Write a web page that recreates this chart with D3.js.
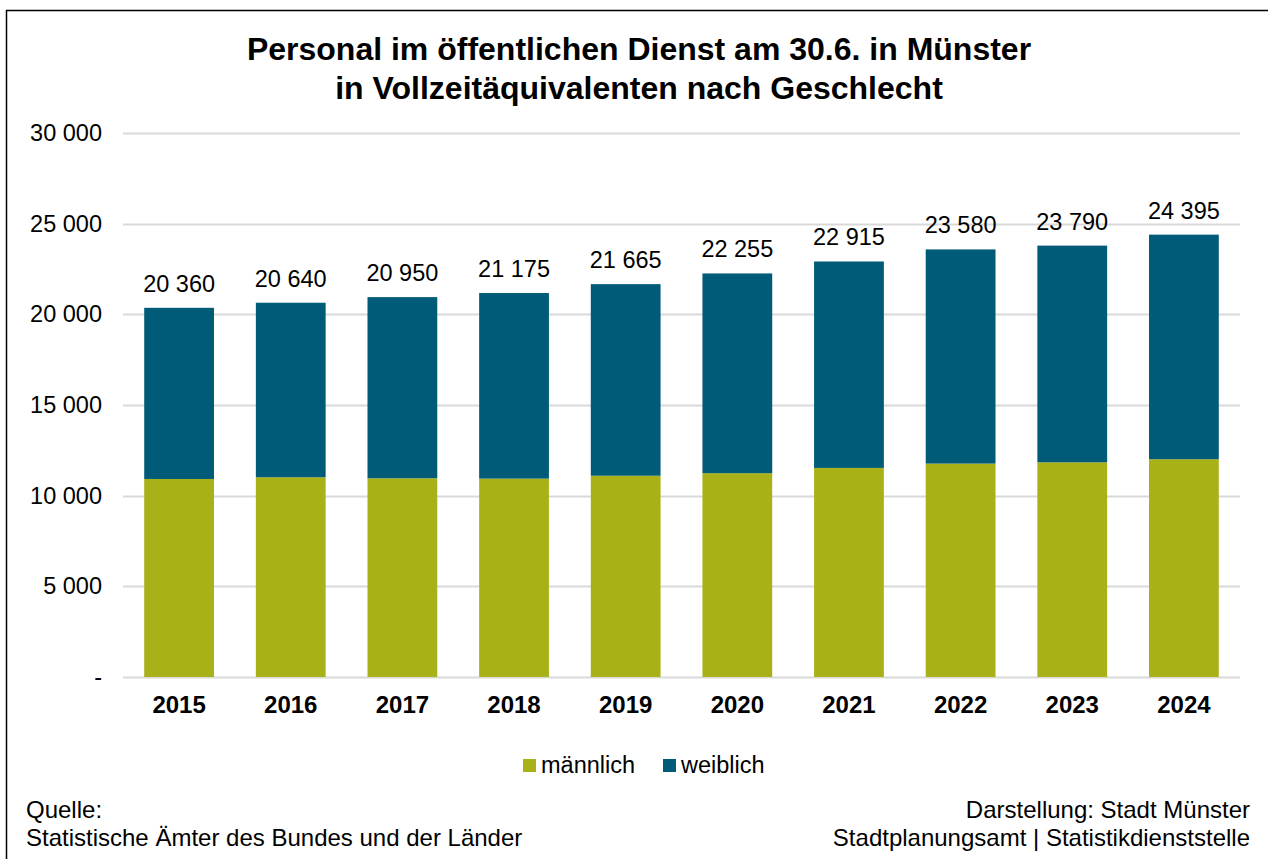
<!DOCTYPE html>
<html>
<head>
<meta charset="utf-8">
<script src="https://cdn.jsdelivr.net/npm/d3@7"></script>
<style>
	body { margin: 0; background: #fff; }
	text { font-family: "Liberation Sans", Arial, sans-serif; }
</style>
</head>
<body>
<svg></svg>
<script>
// data
const years = ["2015", "2016", "2017", "2018", "2019", "2020", "2021", "2022", "2023", "2024"];
const maennlich = [10920, 11015, 10960, 10940, 11100, 11240, 11530, 11770, 11840, 12010];
const totals = [20360, 20640, 20950, 21175, 21665, 22255, 22915, 23580, 23790, 24395];
const weiblich = totals.map((t, i) => t - maennlich[i]);
const yTicks = [0, 5000, 10000, 15000, 20000, 25000, 30000];
const seriesNames = ["männlich", "weiblich"];
const colors = ["#a8b118", "#005b78"];

const size = { w: 1268, h: 859 };
const margin = { t: 133, r: 28, b: 182, l: 123 };
const svg = d3.select("svg").attr("width", size.w).attr("height", size.h);

// frame (only top and left edges fall inside the picture)
svg.append("rect")
	.attr("x", 6.5).attr("y", 10.5)
	.attr("width", 1300).attr("height", 900)
	.attr("fill", "none").attr("stroke", "#000").attr("stroke-width", 1.5);

// title
const title = svg.append("text")
	.attr("text-anchor", "middle")
	.attr("font-size", 32).attr("font-weight", "bold");
title.append("tspan").attr("x", 639).attr("y", 60).text("Personal im öffentlichen Dienst am 30.6. in Münster");
title.append("tspan").attr("x", 639).attr("y", 99).text("in Vollzeitäquivalenten nach Geschlecht");

const x = d3.scaleBand()
	.domain(years)
	.range([margin.l, size.w - margin.r])
	.paddingInner(0.375).paddingOuter(0.19);

const y = d3.scaleLinear()
	.domain([0, 30000])
	.range([size.h - margin.b, margin.t]);

const fmt = (v) => v === 0 ? "-" : d3.format(",")(v).replace(/,/g, " ");

// grid
svg.append("g").selectAll("line")
	.data(yTicks)
	.enter().append("line")
	.attr("x1", margin.l).attr("x2", size.w - margin.r)
	.attr("y1", (d) => Math.round(y(d)) + 0.5).attr("y2", (d) => Math.round(y(d)) + 0.5)
	.attr("stroke", "#d9d9d9").attr("stroke-width", 2);

svg.append("g").selectAll("text")
	.data(yTicks)
	.enter().append("text")
	.attr("x", 102).attr("y", (d) => y(d) + 8)
	.attr("text-anchor", "end").attr("font-size", 23.5)
	.text(fmt);

// stacked bars
const rows = years.map((yr, i) => ({ year: yr, "männlich": maennlich[i], "weiblich": weiblich[i] }));
const stack = d3.stack().keys(seriesNames)(rows);

svg.append("g").selectAll("g")
	.data(stack)
	.enter().append("g")
	.attr("fill", (d, i) => colors[i])
	.selectAll("rect")
	.data((d) => d)
	.enter().append("rect")
	.attr("x", (d) => x(d.data.year))
	.attr("width", x.bandwidth())
	.attr("y", (d) => y(d[1]))
	.attr("height", (d) => y(d[0]) - y(d[1]));

// total labels
svg.append("g").selectAll("text")
	.data(years)
	.enter().append("text")
	.attr("x", (d) => x(d) + x.bandwidth() / 2)
	.attr("y", (d, i) => y(totals[i]) - 16)
	.attr("text-anchor", "middle").attr("font-size", 23.5)
	.text((d, i) => fmt(totals[i]));

// x labels
svg.append("g").selectAll("text")
	.data(years)
	.enter().append("text")
	.attr("x", (d) => x(d) + x.bandwidth() / 2)
	.attr("y", 713)
	.attr("text-anchor", "middle").attr("font-size", 24).attr("font-weight", "bold")
	.text((d) => d);

// legend
const legend = svg.append("g");
const legX = [523, 663];
seriesNames.forEach((name, i) => {
	legend.append("rect")
		.attr("x", legX[i]).attr("y", 759)
		.attr("width", 13).attr("height", 13)
		.attr("fill", colors[i]);
	legend.append("text")
		.attr("x", legX[i] + 18).attr("y", 773)
		.attr("font-size", 23.5)
		.text(name);
});

// footer
const foot = [
	{ x: 26, y: 818, a: "start", t: "Quelle:" },
	{ x: 26, y: 846, a: "start", t: "Statistische Ämter des Bundes und der Länder" },
	{ x: 1250, y: 818, a: "end", t: "Darstellung: Stadt Münster" },
	{ x: 1250, y: 846, a: "end", t: "Stadtplanungsamt | Statistikdienststelle" },
];
svg.append("g").selectAll("text")
	.data(foot)
	.enter().append("text")
	.attr("x", (d) => d.x).attr("y", (d) => d.y)
	.attr("text-anchor", (d) => d.a).attr("font-size", 24)
	.text((d) => d.t);
</script>
</body>
</html>
